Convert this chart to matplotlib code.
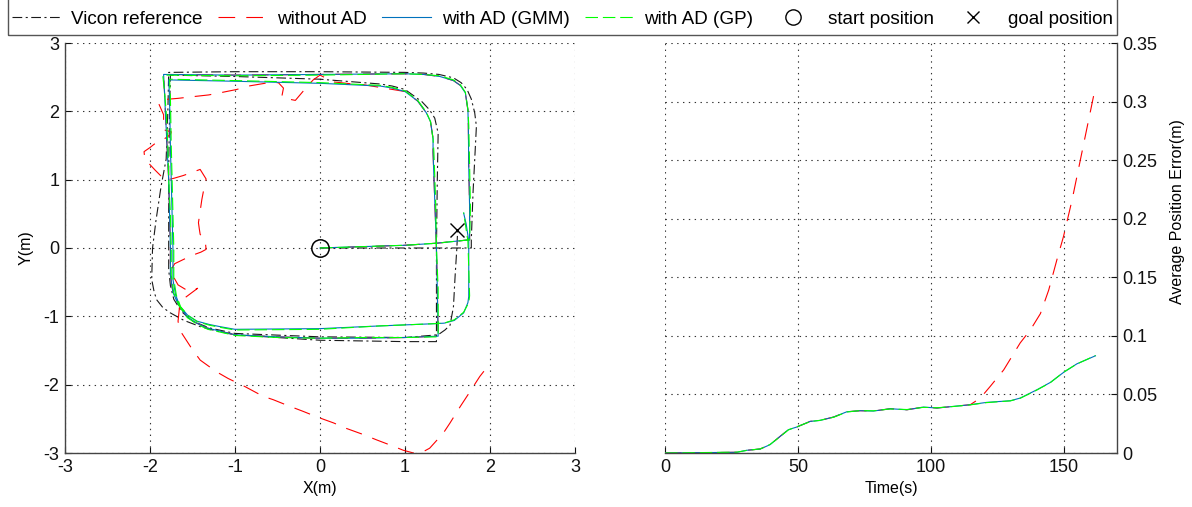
import matplotlib
matplotlib.use("Agg")
import matplotlib.pyplot as plt
from matplotlib.lines import Line2D
from matplotlib.patches import Rectangle

plt.rcParams['font.family'] = ['Liberation Sans', 'DejaVu Sans']
plt.rcParams['font.size'] = 13
plt.rcParams['axes.unicode_minus'] = False
plt.rcParams['lines.scale_dashes'] = False

# ---------------- trajectories (m) ----------------
vicon_x = [0.00, 0.50, 1.00, 1.35, 1.78, 1.78, 1.80, 1.84, 1.82, 1.78, 1.73, 1.66, 1.57, 1.40, 1.22,
           1.00, 0.00, -1.00, -1.78,
           -1.79, -1.81, -1.87, -1.93, -1.97, -1.98, -1.95, -1.92, -1.85, -1.76, -1.60, -1.41, -1.20,
           -1.00, 0.00, 1.00, 1.37,
           1.37, 1.37, 1.38, 1.39, 1.35, 1.29, 1.20, 1.00, 0.85, 0.71, 0.00, -1.00, -1.76,
           -1.77, -1.78, -1.78, -1.78, -1.76, -1.72, -1.63, -1.50, -1.30, -1.00, 0.00, 1.00, 1.39,
           1.47, 1.53, 1.57, 1.59, 1.61, 1.62]
vicon_y = [0.00, 0.00, 0.00, 0.00, 0.00, 0.12, 0.80, 1.78, 1.98, 2.18, 2.32, 2.42, 2.49, 2.54, 2.56,
           2.57, 2.58, 2.58, 2.57,
           2.00, 1.30, 0.90, 0.40, 0.00, -0.46, -0.65, -0.76, -0.87, -0.95, -1.06, -1.15, -1.22,
           -1.27, -1.35, -1.37, -1.37,
           -1.20, 0.00, 1.00, 1.68, 1.90, 2.02, 2.14, 2.32, 2.37, 2.40, 2.47, 2.51, 2.53,
           2.00, 1.15, 0.00, -0.32, -0.55, -0.75, -0.93, -1.07, -1.17, -1.25, -1.30, -1.31, -1.27,
           -1.20, -1.13, -0.86, -0.40, 0.00, 0.27]

gmm_x = [0.00, 0.50, 1.00, 1.37, 1.76, 1.76, 1.75, 1.745, 1.74, 1.71, 1.65, 1.57, 1.41, 1.22,
         1.00, 0.00, -1.00, -1.84,
         -1.83, -1.82, -1.80, -1.78, -1.77, -1.76, -1.76, -1.73, -1.67, -1.57, -1.45, -1.33,
         -1.00, -0.50, 0.00, 0.50, 1.00, 1.39,
         1.38, 1.37, 1.35, 1.33, 1.33, 1.30, 1.25, 1.15, 1.00, 0.85, 0.71,
         0.00, -1.00, -1.78,
         -1.77, -1.76, -1.75, -1.73, -1.73, -1.70, -1.65, -1.56, -1.45, -1.30, -1.18, -1.00,
         0.00, 0.71, 1.30, 1.46,
         1.58, 1.69, 1.74, 1.75, 1.75, 1.75, 1.72, 1.69]
gmm_y = [0.00, 0.02, 0.04, 0.07, 0.12, 0.60, 1.20, 1.80, 2.02, 2.27, 2.38, 2.45, 2.51, 2.54,
         2.55, 2.54, 2.53, 2.54,
         2.30, 2.02, 1.50, 1.00, 0.50, 0.00, -0.40, -0.65, -0.82, -1.00, -1.10, -1.17,
         -1.27, -1.30, -1.32, -1.32, -1.31, -1.29,
         -0.60, 0.00, 0.70, 1.40, 1.60, 1.85, 1.98, 2.15, 2.29, 2.34, 2.37,
         2.41, 2.44, 2.46,
         2.20, 1.50, 1.00, 0.00, -0.46, -0.68, -0.85, -0.98, -1.07, -1.12, -1.15, -1.19,
         -1.18, -1.14, -1.11, -1.10,
         -1.06, -0.95, -0.80, -0.71, -0.30, 0.10, 0.35, 0.51]

gp_x = [0.00, 0.50, 1.00, 1.37, 1.76, 1.77, 1.76, 1.75, 1.74, 1.71, 1.65, 1.57, 1.41, 1.22,
        1.00, 0.00, -1.00, -1.85,
        -1.83, -1.81, -1.79, -1.78, -1.76, -1.75, -1.75, -1.72, -1.66, -1.56, -1.44, -1.32,
        -1.00, -0.50, 0.00, 0.50, 1.00, 1.39,
        1.39, 1.37, 1.36, 1.34, 1.33, 1.30, 1.25, 1.15, 1.00, 0.85, 0.71,
        0.00, -1.00, -1.77,
        -1.76, -1.75, -1.74, -1.72, -1.72, -1.69, -1.64, -1.55, -1.44, -1.30, -1.18, -1.00,
        0.00, 0.71, 1.30, 1.46,
        1.58, 1.69, 1.75, 1.76, 1.75, 1.74, 1.71, 1.69]
gp_y = [0.00, 0.02, 0.04, 0.07, 0.12, 0.60, 1.20, 1.80, 2.03, 2.28, 2.39, 2.46, 2.52, 2.54,
        2.55, 2.53, 2.52, 2.53,
        2.30, 2.00, 1.50, 1.00, 0.50, 0.00, -0.40, -0.66, -0.84, -1.02, -1.12, -1.19,
        -1.28, -1.31, -1.32, -1.31, -1.31, -1.30,
        -0.60, 0.00, 0.70, 1.40, 1.60, 1.85, 1.99, 2.16, 2.30, 2.35, 2.38,
        2.42, 2.45, 2.47,
        2.20, 1.50, 1.00, 0.00, -0.46, -0.69, -0.86, -0.99, -1.08, -1.13, -1.16, -1.20,
        -1.19, -1.14, -1.11, -1.10,
        -1.05, -0.94, -0.80, -0.70, -0.30, 0.10, 0.35, 0.52]

noad_x = gmm_x[:45] + [0.51, 0.39, 0.16, 0.00, -0.08, -0.14, -0.29, -0.37, -0.45, -0.43, -0.49,
                       -0.65, -0.84, -0.98, -1.18, -1.31, -1.53, -1.67, -1.86, -1.90, -1.84,
                       -1.84, -1.75, -1.76, -1.85, -1.95, -2.00, -2.07, -2.06, -2.00, -1.94,
                       -1.82, -1.72, -1.61, -1.41, -1.34, -1.37, -1.39, -1.43, -1.42, -1.41,
                       -1.35, -1.34, -1.40, -1.51, -1.71, -1.76, -1.67, -1.55, -1.44, -1.58,
                       -1.65, -1.67, -1.66, -1.63, -1.51, -1.41, -1.22, -1.08, -0.88, -0.67,
                       -0.55, -0.39, -0.20, -0.04, 0.16, 0.31, 0.51, 0.67, 0.86, 0.98, 1.10,
                       1.20, 1.29, 1.45, 1.53, 1.65, 1.75, 1.88, 2.00]
noad_y = gmm_y[:45] + [2.39, 2.40, 2.43, 2.53, 2.46, 2.38, 2.16, 2.18, 2.21, 2.34, 2.42,
                       2.41, 2.37, 2.32, 2.27, 2.24, 2.21, 2.19, 2.17, 2.12, 1.95,
                       1.73, 1.70, 1.66, 1.58, 1.52, 1.47, 1.41, 1.29, 1.22, 1.14,
                       0.99, 1.02, 1.06, 1.15, 1.01, 0.84, 0.71, 0.37, 0.28, 0.20,
                       0.10, -0.02, -0.06, -0.11, -0.23, -0.34, -0.54, -0.63, -0.59, -0.72,
                       -0.83, -1.07, -1.15, -1.24, -1.47, -1.64, -1.81, -1.91, -2.03, -2.17,
                       -2.22, -2.30, -2.39, -2.47, -2.56, -2.64, -2.73, -2.81, -2.90, -2.96, -3.00,
                       -2.99, -2.93, -2.71, -2.56, -2.32, -2.13, -1.88, -1.69]

start_pos = (0.0, 0.0)
goal_pos = (1.61, 0.27)

# ---------------- average position error ----------------
t_ad = [0, 27.0, 30.7, 35.8, 39.5, 43.3, 46.4, 49.6, 54.6, 58.3, 63.4, 68.4, 73.4, 78.4, 84.7,
        91.0, 97.2, 102.3, 108.5, 114.8, 120.9, 129.9, 133.6, 139.9, 144.9, 149.9, 154.9, 161.9]
err_gmm = [0, 0.0006, 0.0023, 0.0034, 0.0071, 0.0142, 0.0199, 0.0222, 0.0270, 0.0278, 0.0307,
           0.0352, 0.0361, 0.0358, 0.0378, 0.0369, 0.0392, 0.0384, 0.0398, 0.0412, 0.0432,
           0.0446, 0.0469, 0.0540, 0.0602, 0.0688, 0.0761, 0.0830]
err_gp = [0, 0.0007, 0.0022, 0.0035, 0.0073, 0.0140, 0.0197, 0.0224, 0.0268, 0.0279, 0.0305,
          0.0350, 0.0362, 0.0360, 0.0376, 0.0371, 0.0390, 0.0386, 0.0397, 0.0411, 0.0430,
          0.0445, 0.0467, 0.0538, 0.0600, 0.0690, 0.0760, 0.0832]
t_noad = t_ad[:20] + [118.6, 122.3, 127.4, 133.6, 137.4, 141.2, 144.3, 147.4, 149.9, 153.1,
                      156.2, 159.3, 161.9]
err_noad = err_gmm[:20] + [0.0469, 0.0568, 0.0710, 0.0940, 0.1050, 0.1190, 0.1390, 0.1650,
                           0.1850, 0.2160, 0.2500, 0.2840, 0.3125]

# ---------------- styles ----------------
C_VICON = '#1a1a1a'
C_RED = '#ff0000'
C_BLUE = '#0072bd'
C_GREEN = '#00ff00'
LW = 0.8
vicon_kw = dict(color=C_VICON, lw=LW, dashes=(7, 2.5, 1.5, 2.5))
red_kw = dict(color=C_RED, lw=LW, dashes=(12, 8))
blue_kw = dict(color=C_BLUE, lw=LW)
green_kw = dict(color=C_GREEN, lw=LW, dashes=(9, 3.5))
grid_kw = dict(color='#333333', lw=0.8, linestyle=(0, (1, 3.2)))
LABEL_SIZE = 11.5

W, H = 1192, 507
fig = plt.figure(figsize=(W / 100, H / 100), dpi=100)
ax1 = fig.add_axes([65 / W, 1 - 453 / H, 510 / W, 410 / H])
ax2 = fig.add_axes([665 / W, 1 - 453 / H, 452 / W, 410 / H])

# left: trajectories
ax1.plot(vicon_x, vicon_y, **vicon_kw)
ax1.plot(noad_x, noad_y, **red_kw)
ax1.plot(gmm_x, gmm_y, **blue_kw)
ax1.plot(gp_x, gp_y, **green_kw)
ax1.plot(*start_pos, marker='o', ms=12.5, mfc='none', mec='black', mew=1.1, ls='none')
ax1.plot(*goal_pos, marker='x', ms=9.5, mec='black', mew=1.0, ls='none')
ax1.set_xlim(-3, 3)
ax1.set_ylim(-3, 3)
ax1.set_xticks(range(-3, 4))
ax1.set_yticks(range(-3, 4))
ax1.set_xlabel('X(m)', fontsize=LABEL_SIZE, labelpad=4)
ax1.set_ylabel('Y(m)', fontsize=LABEL_SIZE, labelpad=7)
ax1.grid(True, **grid_kw)
for s in ('top', 'right'):
    ax1.spines[s].set_visible(False)
for s in ('left', 'bottom'):
    ax1.spines[s].set_color('#444444')
    ax1.spines[s].set_linewidth(1.0)
ax1.tick_params(direction='in', length=4, width=0.8, pad=4, colors='#111111')

# right: average position error
ax2.plot(t_noad, err_noad, **red_kw)
ax2.plot(t_ad, err_gmm, **blue_kw)
ax2.plot(t_ad, err_gp, **green_kw)
ax2.set_xlim(0, 170)
ax2.set_ylim(0, 0.35)
ax2.set_xticks([0, 50, 100, 150])
ax2.set_yticks([0, 0.05, 0.1, 0.15, 0.2, 0.25, 0.3, 0.35])
ax2.set_yticklabels(['0', '0.05', '0.1', '0.15', '0.2', '0.25', '0.3', '0.35'])
ax2.yaxis.tick_right()
ax2.yaxis.set_label_position('right')
ax2.set_xlabel('Time(s)', fontsize=LABEL_SIZE, labelpad=4)
ax2.set_ylabel('Average Position Error(m)', fontsize=LABEL_SIZE)
ax2.yaxis.set_label_coords(1 + 53 / 452, (453 - 212) / 410)
ax2.grid(True, **grid_kw)
for s in ('top', 'left'):
    ax2.spines[s].set_visible(False)
for s in ('right', 'bottom'):
    ax2.spines[s].set_color('#444444')
    ax2.spines[s].set_linewidth(1.0)
ax2.tick_params(direction='in', length=4, width=0.8, pad=4, colors='#111111')

# shared legend along the top edge; its frame runs off the top of the figure
handles = [
    Line2D([], [], **vicon_kw),
    Line2D([], [], **red_kw),
    Line2D([], [], **blue_kw),
    Line2D([], [], **green_kw),
    Line2D([], [], marker='o', ms=11, mfc='none', mec='black', mew=1.0, ls='none'),
    Line2D([], [], marker='x', ms=9, mec='black', mew=1.0, ls='none'),
]
labels = ['Vicon reference', 'without AD', 'with AD (GMM)', 'with AD (GP)',
          'start position', 'goal position']
leg_x0, leg_x1, leg_bottom = 8, 1117, 35
fig.legend(handles, labels, ncol=6, loc='center', mode='expand',
           bbox_to_anchor=(leg_x0 / W, 1 - leg_bottom / H, (leg_x1 - leg_x0) / W, (leg_bottom - 3) / H),
           frameon=False, handlelength=2.6, handletextpad=0.55, columnspacing=0.9,
           borderpad=0.2, borderaxespad=0, fontsize=13.6)
fig.patches.append(Rectangle((leg_x0 / W, 1 - leg_bottom / H), (leg_x1 - leg_x0) / W,
                             (leg_bottom + 20) / H, transform=fig.transFigure,
                             fill=False, edgecolor='#555555', linewidth=1.0))

fig.savefig('out.png', dpi=100)
